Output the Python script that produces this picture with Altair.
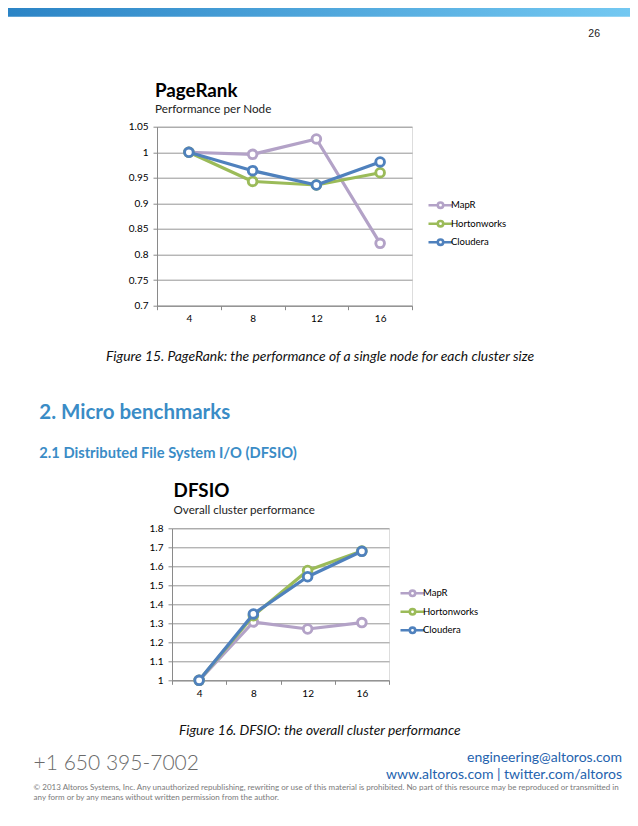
import altair as alt
import pandas as pd

# ---------------- data ----------------
cluster_sizes = ["4", "8", "12", "16"]
series_names = ["MapR", "Hortonworks", "Cloudera"]
series_colors = ["#B3A2C7", "#9BBB59", "#4F81BD"]

pagerank_mapr = [1.0, 0.996, 1.026, 0.822]
pagerank_hortonworks = [1.0, 0.943, 0.936, 0.960]
pagerank_cloudera = [1.0, 0.964, 0.936, 0.981]
pagerank_ticks = [0.7, 0.75, 0.8, 0.85, 0.9, 0.95, 1.0, 1.05]

dfsio_mapr = [1.0, 1.307, 1.270, 1.304]
dfsio_hortonworks = [1.0, 1.340, 1.578, 1.680]
dfsio_cloudera = [1.0, 1.349, 1.545, 1.679]
dfsio_ticks = [1.0, 1.1, 1.2, 1.3, 1.4, 1.5, 1.6, 1.7, 1.8]

# ---------------- style ----------------
FONT = "Lato"
GRID = "#8A8A8A"
# legend glyph: line with an open circle, spanning -2..2 units (size 144 -> 6px/unit)
LEGEND_PATH = ("M-2,0H-0.45M0.45,0H2"
               "M-0.45,0A0.45,0.45 0 1,0 0.45,0A0.45,0.45 0 1,0 -0.45,0Z")


def long_frame(values_list):
    rows = []
    for name, vals in zip(series_names, values_list):
        for size, v in zip(cluster_sizes, vals):
            rows.append({"size": size, "series": name, "value": v})
    return pd.DataFrame(rows)


def text_layer(txt, x, y, size, color="#000000", font=FONT, weight="normal",
               style="normal", align="left"):
    return alt.Chart(pd.DataFrame({"label": [txt]})).mark_text(
        align=align, baseline="alphabetic", font=font, fontSize=size,
        fontWeight=weight, fontStyle=style, color=color
    ).encode(x=alt.value(x), y=alt.value(y), text="label:N")


def line_chart(values_list, ticks, domain, legend_x, legend_y):
    df = long_frame(values_list)
    x_enc = alt.X(
        "size:O",
        scale=alt.Scale(type="band", domain=cluster_sizes, paddingInner=0, paddingOuter=0),
        axis=alt.Axis(title=None, labelAngle=0, tickBand="extent", grid=False,
                      domainColor=GRID, tickColor=GRID, tickSize=4,
                      labelFont=FONT, labelFontSize=10, labelColor="#000000",
                      labelPadding=4),
    )
    y_enc = alt.Y(
        "value:Q",
        scale=alt.Scale(domain=domain, nice=False, zero=False),
        axis=alt.Axis(title=None, values=ticks, format="~g", grid=True,
                      gridColor=GRID, gridWidth=0.9, domainColor=GRID,
                      tickColor=GRID, tickSize=4, labelFont=FONT,
                      labelFontSize=10, labelColor="#000000", labelPadding=5),
    )
    stroke_enc = alt.Stroke(
        "series:N",
        scale=alt.Scale(domain=series_names, range=series_colors),
        legend=alt.Legend(title=None, orient="none", legendX=legend_x,
                          legendY=legend_y, symbolType=LEGEND_PATH,
                          symbolSize=144, symbolStrokeWidth=2.6,
                          symbolFillColor="white", labelFont=FONT,
                          labelFontSize=9.5, labelColor="#000000",
                          labelOffset=3, rowPadding=1.5, padding=0),
    )
    layers = []
    for name in series_names:
        base = alt.Chart(df).transform_filter(alt.datum.series == name)
        layers.append(base.mark_line(strokeWidth=3.2, strokeJoin="round").encode(
            x=x_enc, y=y_enc, stroke=stroke_enc))
        layers.append(base.mark_point(filled=True, fill="white", size=75,
                                      strokeWidth=2.9, opacity=1).encode(
            x=x_enc, y=y_enc, stroke=stroke_enc))
    return layers


# ---------------- PageRank block (origin = plot top-left) ----------------
header_bar = alt.Chart(pd.DataFrame({"k": [0]})).mark_rect(
    color=alt.LinearGradient(
        gradient="linear",
        stops=[alt.GradientStop(color="#2A83C5", offset=0),
               alt.GradientStop(color="#74C9F2", offset=1)],
        x1=0, x2=1, y1=0, y2=0)
).encode(x=alt.value(-157), x2=alt.value(481), y=alt.value(-127), y2=alt.value(-110))

pr_layers = [header_bar,
             text_layer("26", 443, -90, 10.5, color="#222222", font="Liberation Sans", align="right"),
             text_layer("PageRank", -2, -30, 18.8, weight="bold"),
             text_layer("Performance per Node", -2, -13.5, 11.7, color="#222222")]
pr_layers += line_chart([pagerank_mapr, pagerank_hortonworks, pagerank_cloudera],
                        pagerank_ticks, [0.7, 1.05], 276, 71)
pr_layers += [
    text_layer("Figure 15. PageRank: the performance of a single node for each cluster size",
               163, 234, 13.9, color="#111111", style="italic", align="center"),
    text_layer("2. Micro benchmarks", -117.7, 292.3, 20.5, color="#3A8CC6", weight="bold"),
    text_layer("2.1 Distributed File System I/O (DFSIO)", -117.7, 331.6, 14.7,
               color="#3A8CC6", weight="bold"),
]
pr_chart = alt.layer(*pr_layers).properties(width=255, height=179)

# ---------------- DFSIO block ----------------
df_layers = [text_layer("DFSIO", 1.6, -31.6, 18.8, weight="bold"),
             text_layer("Overall cluster performance", 1.6, -14, 11.6, color="#222222")]
df_layers += line_chart([dfsio_mapr, dfsio_hortonworks, dfsio_cloudera],
                        dfsio_ticks, [1.0, 1.8], 248, 57.5)
copyright_1 = ("\u00a9 2013 Altoros Systems, Inc. Any unauthorized republishing, rewriting or use "
               "of this material is prohibited. No part of this resource may be reproduced or "
               "transmitted in")
copyright_2 = "any form or by any means without written permission from the author."
df_layers += [
    text_layer("Figure 16. DFSIO: the overall cluster performance", 147.8, 206.7, 13.8,
               color="#111111", style="italic", align="center"),
    text_layer("+1 650 395-7002", -138.4, 241.7, 21, color="#6A6A6A", weight=300),
    text_layer("engineering@altoros.com", 450, 233.4, 14, color="#2563AE", align="right"),
    text_layer("www.altoros.com | twitter.com/altoros", 450, 251, 14, color="#2563AE",
               align="right"),
    text_layer(copyright_1, -138.4, 261.7, 8.0, color="#7A7A7A"),
    text_layer(copyright_2, -138.4, 271.7, 8.0, color="#7A7A7A"),
]
df_chart = alt.layer(*df_layers).properties(width=217, height=152)

spacer = alt.Chart(pd.DataFrame({"v": [0]})).mark_point(opacity=0).properties(width=14.7, height=1)
row2 = alt.hconcat(spacer, df_chart, spacing=0, bounds="flush")

chart = alt.vconcat(pr_chart, row2, spacing=222.6, bounds="flush").resolve_scale(
    stroke="independent"
).resolve_legend(stroke="independent").properties(
    autosize=alt.AutoSizeParams(type="none"),
    padding={"left": 149, "top": 118.7, "right": 473, "bottom": 691.3},
).configure_view(strokeWidth=0).configure(background="white")

chart.save("out.html", embed_options={"renderer": "svg", "actions": False})
